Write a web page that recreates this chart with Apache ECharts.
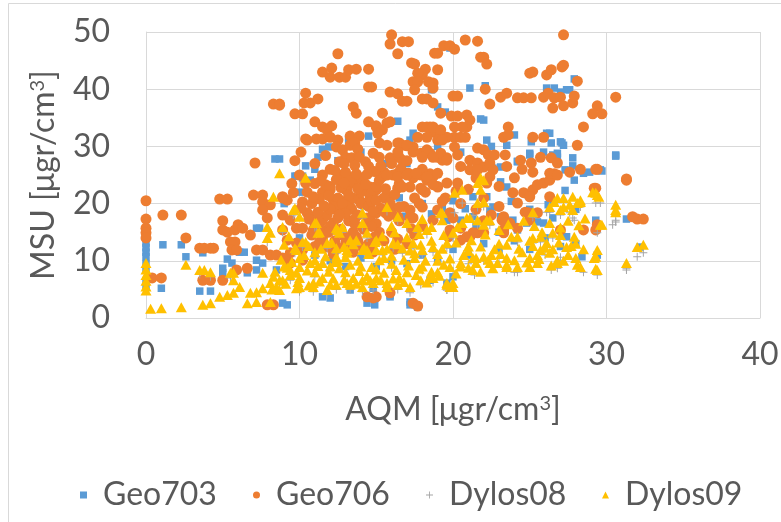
<!DOCTYPE html>
<html>
<head>
<meta charset="utf-8">
<script src="https://cdn.jsdelivr.net/npm/echarts@6/dist/echarts.min.js"></script>
<style>
  html, body { margin: 0; padding: 0; background: #fff; }
  #chart { width: 781px; height: 522px; }
</style>
</head>
<body>
<div id="chart"></div>
<script>
// Точки: [AQM, MSU]
const xTicks = [0, 10, 20, 30, 40];
const yTicks = [0, 10, 20, 30, 40, 50];
const seriesNames = ['Geo703', 'Geo706', 'Dylos08', 'Dylos09'];

const geo703 = [
  [0,13.1],[0,12.3],[0,11.5],[0,10.7],[0,9.5],[0,8.5],[0,5.4],[0,6.5],[1.1,12.8],[2.3,12.8],[1.0,5.2],[2.6,10.7],[3.5,4.7],[4.2,4.7],[3.7,11.4],
  [5.3,10.3],[5.6,9.6],[5.9,8.4],[5.0,8.7],[5.0,7.9],[6.1,11.5],[6.4,11.5],[7.2,15.7],[7.4,15.7],[6.6,7.9],[7.2,8.4],[7.2,10.1],[7.6,9.6],[8.3,11.0],[8.5,8.4],
  [9.7,24.8],[10.2,24.5],[10.7,24.1],[9.2,2.3],[14.4,2.6],[11.5,3.7],
  [8.4,27.8],[8.7,27.8],[10.4,26.6],[11.2,28.1],[11.5,29.5],[11.9,29.9],[12.5,31.1],[13.2,31.1],[14.5,31.8],[9.8,24.8],[10.2,24.8],
  [21.1,40.2],[22.1,40.6],[19.8,47.2],[20.1,46.9],[18.6,39.9],[21.8,34.8],[22.0,34.6],[16.4,34.4],[19.0,36.9],[17.4,32.3],[17.2,31.1],[22.2,31.1],[23.5,30.2],
  [26.1,32.3],[26.3,32.3],[27.0,30.8],[27.2,30.2],[25.9,29.0],[26.4,30.6],[26.5,28.5],[26.8,28.1],[27.8,28.0],
  [27.9,41.8],[27.6,39.9],[27.4,39.9],[27.0,39.5],[26.1,40.2],[26.6,40.2],
  [28.9,25.5],[29.6,25.9],[28.5,25.3],[27.8,26.6],[30.6,28.5],[24.2,27.3],[25.0,28.5],
  [27.1,30.6],[25.1,30.8],[25.0,28.8],[26.8,28.8],[27.3,25.9],[24.2,27.4],[27.9,24.1],[22.6,26.2],[23.1,26.4],[23.1,23.8],[23.5,22.9],[21.3,21.2],[22.2,21.2],
  [31.3,17.3],[28.4,10.7],[29.3,15.9],[29.4,11.0],[24.8,16.6],[25.5,16.8],[25.9,16.6],[24.2,15.4],[23.9,17.1],[23.1,17.7],[22.4,18.9],[22.6,19.4],[21.3,17.7],[20.5,17.1],[27.4,14.2],[19.3,19.2],[19.6,17.1],[20.0,7.2],
  [30.6,28.3],[29.4,25.9],[29.7,25.7],[29.3,17.1],[29.3,15.7],[32.2,12.4],
  [12.0,3.5],[15.9,3.7],[17.2,2.8],[17.7,1.9],[8.9,2.6],[17.2,2.3],[14.9,2.3],[15.9,4.0],
  [13.3,4.9],[14.8,5.2],[18.5,6.6],[19.6,6.1],
  [10,14],[11,11],[12,10],[13,9],[14,10.5],[15,9],[16,10],[17,9.5],[18,11],[19,10],[20,12],[21,11],[22,13],[23,12],[24,13.5],[25,12],[26,14],[27,12.5],[28,13],
  [9,20],[10,22],[11,26],[12.5,27.5],[14,29],[15.5,27],[17,27],[19,30],[20.5,29],[22.5,30],[24,32],[19.5,36],
  [16.5,21],[18,20],[20,20.5],[21.5,16],[23,15],[25,19],[26.5,17.5],[28,19],
  [14.2,19.6],[16.9,17.8],[18.6,18.2],[20.8,19.1],[23.8,20.4],[24.9,21.5],[26.2,19.8],[27.3,22.3]
];

const geo706 = [
  [12.5,46.2],[11.5,43.0],[12.1,43.7],[12.0,42.1],[12.6,42.1],[13.0,42.1],[13.2,43.4],[13.7,43.5],[14.5,43.5],[14.5,40.4],[14.7,40.4],
  [8.3,37.4],[8.7,37.4],[10.4,39.3],[10.3,37.6],[10.7,37.6],[11.2,38.3],[9.7,35.7],[10.2,35.7],[11.0,34.3],[11.5,33.4],[12.1,33.6],[11.8,32.9],
  [13.5,36.9],[13.7,35.8],[14.5,34.3],[15.0,33.6],[10.4,31.3],[11.1,31.3],[11.5,31.3],[12.0,31.6],[13.3,31.8],[13.9,31.8],[10.1,29.0],[7.1,27.1],
  [16.0,49.5],[15.9,47.9],[16.7,48.3],[17.1,48.3],[16.4,46.2],[18.8,46.3],[19.0,46.3],[19.4,47.6],[19.8,47.6],[20.1,47.0],[20.8,48.6],[21.6,48.4],[27.2,49.5],
  [21.8,45.6],[22.0,45.6],[22.2,44.4],[17.3,44.6],[17.5,44.4],[18.2,43.5],[18.0,42.5],[17.7,42.8],[19.0,43.4],
  [17.4,41.3],[17.7,41.3],[18.4,41.3],[18.7,41.1],[17.5,39.9],[18.7,40.2],
  [15.9,39.5],[16.4,39.2],[16.7,37.9],[17.0,37.9],[18.0,38.3],[18.3,38.3],[18.7,37.6],[19.2,35.8],[20.0,38.8],[20.3,38.8],[22.1,40.0],[22.4,37.4],
  [23.1,38.6],[23.5,39.3],[24.2,38.5],[24.6,38.5],[25.1,38.5],[25.9,38.6],[26.2,39.3],[26.6,38.5],[26.5,36.7],[27.0,38.6],[27.2,37.1],[27.8,37.6],[27.9,38.8],
  [25.0,42.8],[25.2,43.0],[26.1,42.5],[26.4,43.4],[27.1,43.9],[27.2,44.2],[28.1,41.4],
  [30.6,38.6],[29.4,37.1],[29.1,35.7],[29.7,35.7],[28.5,33.4],[28.1,30.2],
  [23.6,33.4],[23.3,31.6],[23.6,32.0],[25.2,31.6],[25.9,31.6],[23.4,28.5],
  [24.4,27.6],[25.1,27.1],[25.7,28.1],[26.4,28.0],[26.8,27.1],[25.2,25.5],[26.6,25.2],[28.3,26.0],[29.4,26.0],[31.3,24.3],
  [19.9,35.3],[20.3,35.3],[20.9,35.5],[21.1,34.6],[20.9,33.4],[20.6,33.4],[20.1,33.4],
  [20.1,31.6],[20.5,31.6],[20.8,31.6],[21.6,29.7],[22.0,29.4],[22.3,28.5],[22.7,28.5],[20.3,28.5],[20.1,29.9],
  [15.9,34.3],[15.4,35.8],[15.0,33.4],[15.4,32.9],[18.0,33.4],[18.5,33.4],[18.7,32.5],[19.2,32.0],[19.6,31.6],[17.7,31.6],
  [16.4,30.6],[16.7,30.2],[17.0,30.1],[17.4,29.9],[14.8,28.8],[15.2,28.1],[15.9,28.0],[16.5,28.1],[16.7,27.6],
  [18.5,28.8],[19.0,28.1],[19.3,27.6],[19.6,28.0],[21.1,27.6],[21.6,27.1],[22.0,26.4],[22.4,27.1],[22.6,25.9],
  [15.4,25.0],[16.4,25.3],[17.1,25.3],[17.9,25.0],[18.5,25.2],
  [10.5,31.1],[12.5,31.1],[12.4,29.9],[12.8,29.4],[13.3,30.2],[13.6,30.6],[13.8,29.5],[13.0,28.1],[13.4,28.0],[12.6,27.3],[13.9,28.1],[14.3,27.3],
  [15.2,30.6],[15.7,30.2],[15.1,32.3],[15.7,34.1],[16.5,30.6],[17.0,30.2],[16.4,29.0],[17.4,29.0],[17.9,28.8],[18.3,29.4],
  [18.3,33.4],[18.7,33.4],[19.2,32.9],[18.3,31.6],[19.0,31.1],[19.3,31.1],[19.2,28.8],[19.6,27.6],[18.7,28.1],[18.0,28.1],
  [12.0,22.4],[12.6,25.0],[13.1,24.7],[13.5,23.6],[14.1,24.1],[14.6,22.9],[15.0,22.4],[12.2,20.6],[13.1,20.6],[13.9,20.6],[14.6,21.2],
  [15.4,24.7],[16.1,25.0],[17.0,25.3],[17.4,24.5],[18.3,24.1],[18.7,24.7],[19.0,22.9],[18.0,22.4],[17.2,22.9],[16.4,22.7],[15.9,21.2],
  [8.9,21.2],[9.2,20.6],[8.7,37.2],
  [0,20.5],[0,17.3],[0,15.7],[0,14.9],[0,14.0],[1.1,18.0],[2.3,18.0],[2.6,14.0],[3.5,12.2],[3.8,12.2],[4.2,12.2],[4.4,12.2],[0.4,7.0],[1.0,7.0],
  [4.8,20.8],[5.3,20.8],[5.0,17.0],[5.0,15.4],[5.3,15.0],[5.8,15.4],[6.0,16.3],[6.3,15.7],[5.5,13.3],[5.8,13.3],[5.6,11.9],[5.9,11.9],[6.8,14.5],
  [7.0,21.5],[7.6,21.5],[7.6,20.3],[8.1,19.8],[8.9,21.0],[7.6,18.9],[7.9,17.5],[7.2,11.9],[7.6,11.9],[8.1,11.0],[8.5,11.0],[7.9,2.3],[8.3,2.3],
  [3.7,6.6],[4.2,6.6],[5.0,6.6],[5.9,8.4],[6.6,8.7],
  [8.9,18.0],[9.4,17.1],[9.8,15.7],[8.9,15.4],[9.2,13.6],[9.8,13.1],[10.2,11.9],[9.4,11.4],[8.9,10.5],[9.4,9.6],[10.2,10.1],
  [10.2,20.3],[10.5,18.4],[11.1,18.0],[11.5,17.1],[10.2,15.7],[10.9,15.4],[11.5,15.4],[12.2,16.6],[12.8,18.4],[13.3,19.4],[14.1,20.1],[14.6,21.9],[14.1,22.9],[13.1,22.4],[12.4,18.9],
  [11.8,12.4],[12.4,12.4],[13.1,13.6],[13.7,14.2],[14.1,15.9],[14.6,17.1],[15.0,18.4],[14.4,3.7],[15.0,3.7],
  [11.5,22],[12,23],[12.5,21],[13,22.5],[13.5,21],[14,22],[12.2,19.5],[12.8,20],[13.4,19],[14,20],[14.5,19.5],[11.8,18],[12.5,17.5],[13.2,17],[13.8,18],[14.4,17.5],[15,16.5],
  [12,16],[12.7,15.5],[13.5,15],[14.2,15.5],[15.2,15],[11.5,14],[12.3,13.5],[13,13],[13.8,13.5],[14.5,13],[15.5,13.5],[16,15],[16.5,17],[16,19],[15.5,21],[15,23],
  [14,24.5],[13,25.5],[12,26],[11.5,25],[11,23.5],[10.5,22],[10.8,20],[11.2,18.5],[11,16.5],[10.8,14.5],[11,12.5],[12.3,12],[13.5,11.5],[14.8,11.5],[16.2,12],
  [17,13],[17.5,14.5],[18,16],[17.2,17.5],[16.8,19.5],[17.5,21],[18.2,22],[19,23],[16.5,23.5],[15.5,25.5],[14.5,26.5],[16,27],[17,27.5],[18,26],
  [19.5,21],[20.5,20],[21.5,19],[20,17.5],[21,22.5],[22,21],[23,19.5],[22.5,18],[20.5,26.5],[21.5,24.5],[23,23],[24,24.5],[23.5,26.5],[24.5,26],[22,17],
  [10,25],[9.5,23.5],[9.7,27.5],[11,27],
  [11.3,20.8],[11.9,21.4],[12.7,22.8],[13.3,23.9],[13.8,22.6],[14.3,23.4],[12.4,24.2],[11.7,23.3],[10.9,21.2],[12.0,19.0],[13.0,18.3],[13.6,16.4],[14.7,16.0],
  [12.9,14.3],[11.9,15.0],[11.3,13.2],[14.9,14.2],[15.8,17.8],[15.3,19.2],[14.8,18.7],[15.6,22.6],[16.2,21.6],[13.6,26.7],[12.9,27.0],[14.9,25.6],[11.7,28.4],
  [16.6,26.1],[17.8,20.0],[19.3,20.4],[20.2,22.2],[10.6,17.3],[10.1,19.2],[9.6,21.9],[10.4,23.6],[12.2,11.2],[13.2,12.1],[14.1,12.4],[16.4,13.8],[17.3,15.6],
  [12.3,25.8],[13.7,25.2],[14.4,25.1],[12.9,23.6],[11.4,24.0],[15.3,26.6],[13.2,21.5],[14.7,20.4],[11.6,19.6],[12.6,18.0],[15.6,18.4],[13.6,17.3],
  [15.2,24.1],[15.7,25.0],[16.4,24.7],[17.0,25.0],[17.6,25.3],[18.3,24.7],[19.0,25.3],[16.7,22.9],[17.9,22.7],[18.7,23.3],[19.6,23.6],[20.3,23.6],[21.1,25.9],[21.6,25.9],[22.4,24.7],[22.2,23.6],
  [15.0,20.6],[15.9,20.1],[16.5,19.4],[17.2,18.9],[18.0,19.4],[19.0,18.9],[19.8,18.4],[16.4,17.7],[17.4,17.5],[18.7,17.1],
  [19.8,15.4],[20.5,15.7],[21.1,14.2],[21.6,14.9],
  [23.9,21.9],[24.6,21.9],[25.2,22.4],[25.9,23.6],[26.3,24.1],[25.5,23.3],[25.0,21.2],[24.2,20.1],[23.3,17.7],[23.7,16.6],[24.2,15.7],[23.3,15.4],
  [26.3,25.3],[26.8,25.0],[27.6,25.5],[26.3,21.2],[27.0,15.4],[28.5,15.4],[29.3,22.7],[31.3,24.1],
  [17.4,2.6],[17.7,2.1],[14.8,3.5],[15.9,4.4],
  [29.3,26.0],[29.2,22.7],[32.0,17.3],[32.4,17.3],[29.4,16.3],
  [24.7,18.5],[24.9,18.4],[25.5,18.4],[25.0,17.1],[23.2,17.1],[23.4,16.6],[23.3,14.9],[22.0,14.9],[21.3,14.9],[20.9,14.2],[20.5,13.6],[19.7,14.2],[29.3,15.4],[31.7,17.7]
];

const dylos08 = [
  [0,8.8],[0,7.0],[0,5.0],[3.5,7.6],[4.2,7.2],[5.5,7.0],[7.2,3.8],[8.1,5.4],[8.9,5.8],[7.9,13.2],[8.9,15.0],[9.6,18.0],
  [10.2,12.4],[11.0,15.8],[11.8,12.2],[12.4,14.8],[13.3,12.8],[14.1,15.8],[14.4,14.0],[9.7,18.3],[11.1,15.8],[12.8,15.0],[14.1,17.5],[15.7,18.6],[16.4,16.9],[17.0,15.8],[17.7,15.0],[18.3,14.6],[19.2,17.5],
  [9.7,11.3],[10.4,12.4],[11.0,10.6],[12.4,11.3],[13.1,11.0],[13.7,12.7],[14.4,11.0],[15.0,12.7],[15.4,11.0],[16.1,12.2],[16.7,11.3],[17.4,12.2],[18.0,11.0],[18.7,11.5],[19.6,12.2],[20.0,14.0],
  [8.7,5.8],[9.4,6.6],[10.0,4.6],[10.9,4.6],[11.8,4.1],[12.4,5.0],[13.3,5.0],[14.1,4.6],[14.8,4.9],[15.7,5.2],[16.4,5.0],[17.2,4.4],[17.9,5.8],[18.7,6.2],[19.6,4.9],
  [20.1,18.4],[20.6,20.1],[21.3,17.9],[22.2,19.4],[26.1,18.5],[27.6,18.4],[27.8,17.5],[27.9,17.1],[29.6,20.1],[29.4,14.9],[30.6,16.8],[30.4,16.3],[29.4,7.5],[28.5,8.0],[31.3,8.4],
  [26.8,8.7],[26.4,8.4],[24.2,8.0],[24.0,8.0],[23.5,8.4],[21.4,7.5],[19.6,4.9],
  [30.6,17.1],[32.0,10.7],[32.4,11.4],[31.3,8.7],[29.3,20.1],
  [21.6,19.3],[22.0,19.5],[21.6,16.3],[22.4,16.2],[25.2,17.6],[26.3,18.5],[27.0,18.0],[28.3,19.4],[25.7,13.3],[24.2,13.3],[25.2,13.1],[26.5,14.0],
  [22,10],[23,9.8],[25,10],[26,11],[27,10.6],[20,8.2],[21,9.5],[18,8.3],[16,8.8],[13,7.4],[11,7.2]
];

const dylos09 = [
  [0,9.6],[0,8.5],[0,7.5],[0,6.5],[0,5.5],[0,4.8],[0.3,1.6],[1.0,1.7],[2.3,1.9],[3.7,2.3],[4.2,2.6],[6.6,2.6],[7.2,2.8],[8.1,2.8],
  [2.6,9.3],[3.5,8.4],[3.8,8.4],[4.2,8.0],[4.8,3.7],[5.3,4.0],[5.7,4.4],[6.1,5.4],[5.5,7.9],[5.7,6.6],
  [6.8,4.4],[7.2,4.5],[7.6,5.2],[8.1,6.1],[8.5,5.4],[8.9,6.6],[8.3,21.2],[8.7,25.3],[10.4,24.5],
  [7.9,15.9],[8.1,14.9],[7.9,14.0],[8.9,15.9],[9.6,18.9],[10.2,13.3],[11.0,16.6],[11.3,15.0],[11.8,13.1],[12.4,15.7],[12.6,14.9],[13.3,13.6],[14.1,16.6],[14.4,14.9],
  [5.7,7.9],[7.6,7.9],[8.3,7.2],[9.4,8.4],[10.0,8.9],[10.7,9.6],[11.5,9.6],[12.4,10.7],[13.1,11.4],[14.1,11.9],[15.0,11.9],
  [8.7,4.9],[9.8,5.2],[10.9,6.1],[12.0,5.8],[13.1,6.1],[14.1,6.6],[15.0,7.0],
  [9.7,19.2],[10.0,17.7],[11.1,16.6],[11.2,14.9],[12.5,15.4],[12.8,15.9],[14.1,18.4],[15.7,19.4],[16.4,17.7],[17.0,16.6],[17.7,15.9],[18.3,15.4],[19.2,18.4],[19.3,17.1],
  [9.7,12.2],[10.4,13.3],[11.0,11.5],[12.4,12.2],[13.1,11.9],[13.7,13.6],[14.4,11.9],[15.0,13.6],[15.4,11.9],[16.1,13.1],[16.7,12.2],[17.4,13.1],[18.0,11.9],[18.7,12.4],[19.6,13.1],[20.0,14.9],
  [8.7,6.6],[9.4,7.5],[10.0,5.4],[10.9,5.4],[11.8,4.9],[12.4,5.8],[13.3,5.8],[14.1,5.4],[14.8,6.1],[15.7,5.4],[16.4,5.8],[17.2,5.4],[17.9,6.6],[18.7,7.0],[19.6,5.8],[20.0,6.1],
  [9,9],[10,10.5],[11,8],[12,9],[13,8],[14,9],[15,8.5],[16,9.5],[17,8],[18,9],[19,10],[16.5,7],[13.5,7],[11.5,7],[10,7],[15.5,10.5],[17.5,10.5],[12.5,10],[19,8],
  [20.5,9],[21.5,10.5],[22.5,11],[23.5,10.5],[24.5,11.5],[25.5,11],[26.5,12],[27.5,11],[21,12.5],[23,13],[25,13.5],[27,14.5],[28,13],
  [21.6,20.1],[22.0,20.3],[21.1,17.5],[21.6,17.1],[22.4,17.1],[22.0,16.3],[25.2,18.5],[25.7,14.2],[26.3,19.4],[27.0,18.9],[27.6,19.8],[27.8,18.9],[28.1,20.1],[28.3,20.3],
  [30.6,18.9],[29.6,16.3],[29.4,11.9],[29.2,10.5],[29.3,8.6],[28.3,8.9],[28.1,9.3],[31.3,9.6],[32.0,12.4],[27.9,14.2],
  [27.4,12.4],[26.8,10.1],[26.3,11.4],[25.7,11.9],[25.0,10.5],[24.2,8.9],[23.5,8.9],[22.9,9.6],[22.0,10.7],[21.3,10.5],[20.5,9.6],[19.8,8.9],[19.6,6.1],[20.0,5.4],
  [24.2,14.2],[25.2,14.0],[26.5,14.9],[26.1,13.1],
  [21.8,24.5],[22.0,24.1],[21.6,23.6],[21.8,22.4],[20.1,21.9],[20.6,22.4],[26.8,21.0],[27.2,21.0],[27.8,21.2],[28.3,20.6],[29.1,22.0],[29.4,21.5],[30.6,19.8],
  [29.5,21.2],[30.6,18.5],[29.7,16.3],[29.3,10.7],[32.4,12.8],
  [19.3,18.4],[20.9,17.5],[22.2,17.1],[25.8,15.0],[26.3,16.6],[26.6,20.3],[27.2,19.4],[29.3,21.9],[29.4,8.4],
  [14.6,6.6],[15.7,6.1],[18.5,7.2],[19.8,5.4],[21.3,8.4],[22.4,9.6],[23.5,9.3],[25.0,8.9],[25.5,9.6],[26.8,9.6],
  [8.2,5.0],[9.1,6.0],[9.9,6.3],[10.6,5.7],[11.3,6.4],[12.2,6.9],[12.9,6.6],[13.7,6.0],[14.4,7.3],[15.3,6.6],[16.1,6.9],[16.8,6.3],[17.6,7.5],[18.3,6.2],[19.1,7.4],
  [8.4,8.1],[9.2,8.8],[9.8,7.9],[10.5,8.3],[11.2,9.1],[11.9,8.1],[12.6,8.7],[13.3,9.3],[13.9,8.2],[14.7,8.9],[15.5,7.9],[16.3,8.4],[17.1,9.2],[17.8,8.6],[18.6,8.1],[19.4,9.3],[20.2,7.8],[21.0,8.8],[21.8,8.1],[22.6,8.7],
  [8.8,10.2],[9.5,9.8],[10.3,11.0],[11.0,10.1],[11.7,10.8],[12.3,9.8],[13.0,10.6],[13.8,10.0],[14.5,11.2],[15.2,10.1],[16.0,10.9],[16.8,10.2],[17.5,11.3],[18.2,10.0],[19.0,11.2],[19.8,10.4],
  [20.7,11.0],[21.5,9.6],[22.3,10.2],[23.1,11.2],[24.0,10.1],[24.8,9.7],[25.6,10.3],[26.4,9.2],[27.2,10.0],[28.0,10.5],
  [9.0,12.8],[9.8,11.9],[10.6,12.6],[11.4,12.1],[12.1,13.2],[12.9,12.4],[13.5,12.9],[14.2,12.3],[14.9,13.3],[15.7,12.1],[16.4,12.9],[17.2,11.8],[17.9,12.8],[18.6,13.5],[19.3,12.1],
  [20.2,13.2],[21.0,11.7],[21.8,12.5],[22.7,12.0],[23.5,12.8],[24.3,12.1],[25.2,12.6],[26.0,12.3],[26.9,13.2],[27.7,12.6],[28.5,12.0],
  [9.3,14.3],[15.4,14.3],[16.2,15.0],[17.0,14.1],[17.8,14.7],[18.6,15.9],[19.4,14.5],
  [20.3,15.9],[21.2,13.6],[22.1,14.6],[23.0,15.4],[23.8,14.2],[27.0,15.8],[28.2,16.2],
  [16.0,16.1],[18.0,17.3],[20.6,16.6],[23.6,16.4],[24.6,17.0],[25.3,16.1],[27.5,17.0],[28.6,17.4]
];

const FONT = 'Lato, "Open Sans", sans-serif';
const TEXT = '#595959';
const GRID_LINE = '#D9D9D9';
const COLORS = { geo703: '#5B9BD5', geo706: '#ED7D31', dylos08: '#A5A5A5', dylos09: '#FFC000' };
const PLUS = 'path://M3.5,0H4.5V8H3.5Z M0,3.5H8V4.5H0Z';

const axisName = (txt) => txt + ' [μgr/cm{sup|3}]';
const nameStyle = {
  fontSize: 32, color: TEXT, fontFamily: FONT,
  rich: { sup: { fontSize: 20, color: TEXT, fontFamily: FONT, verticalAlign: 'top', lineHeight: 22 } },
};

const chart = echarts.init(document.getElementById('chart'));

const legendAt = (name, left) => ({
  data: [name], left, top: 474, itemWidth: 7, itemHeight: 7,
  textStyle: { fontSize: 32, color: TEXT, fontFamily: FONT, padding: [0, 0, 0, 11] },
});

chart.setOption({
  animation: false,
  backgroundColor: '#fff',
  graphic: [{
    type: 'rect', silent: true,
    shape: { x: 8.5, y: 3.5, width: 1000, height: 1000 },
    style: { fill: 'none', stroke: GRID_LINE, lineWidth: 1 },
  }],
  grid: { left: 146, right: 21, top: 32, bottom: 204, outerBoundsMode: 'none' },
  legend: [
    legendAt('Geo703', 75),
    legendAt('Geo706', 248),
    legendAt('Dylos08', 421),
    legendAt('Dylos09', 597),
  ],
  xAxis: {
    type: 'value', min: xTicks[0], max: xTicks[xTicks.length - 1], interval: 10,
    name: axisName('AQM'), nameLocation: 'middle', nameGap: 76, nameMoveOverlap: false,
    nameTextStyle: nameStyle,
    axisLine: { show: true, lineStyle: { color: GRID_LINE, width: 1 } },
    axisTick: { show: false },
    axisLabel: { fontSize: 32, color: TEXT, fontFamily: FONT, margin: 21 },
    splitLine: { show: true, lineStyle: { color: GRID_LINE, width: 1 } },
  },
  yAxis: {
    type: 'value', min: yTicks[0], max: yTicks[yTicks.length - 1], interval: 10,
    name: axisName('MSU'), nameLocation: 'middle', nameGap: 86, nameMoveOverlap: false,
    nameTextStyle: nameStyle,
    axisLine: { show: true, lineStyle: { color: GRID_LINE, width: 1 } },
    axisTick: { show: false },
    axisLabel: { fontSize: 32, color: TEXT, fontFamily: FONT, margin: 36 },
    splitLine: { show: true, lineStyle: { color: GRID_LINE, width: 1 } },
  },
  series: [
    { name: seriesNames[0], type: 'scatter', data: geo703, symbol: 'rect', symbolSize: 7.5,
      itemStyle: { color: COLORS.geo703, opacity: 1 } },
    { name: seriesNames[1], type: 'scatter', data: geo706, symbol: 'circle', symbolSize: 11,
      itemStyle: { color: COLORS.geo706, opacity: 1 } },
    { name: seriesNames[2], type: 'scatter', data: dylos08, symbol: PLUS, symbolSize: 8,
      itemStyle: { color: COLORS.dylos08, opacity: 1 } },
    { name: seriesNames[3], type: 'scatter', data: dylos09, symbol: 'triangle', symbolSize: [11, 10],
      itemStyle: { color: COLORS.dylos09, opacity: 1 } },
  ],
});
</script>
</body>
</html>
